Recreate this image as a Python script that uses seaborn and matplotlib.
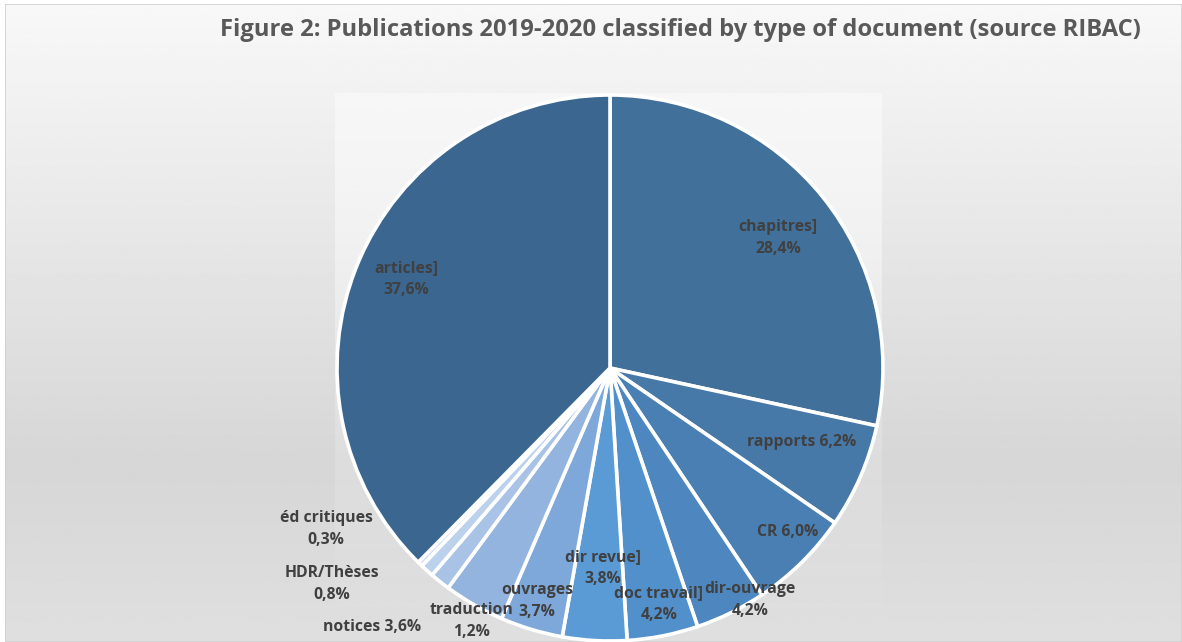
import numpy as np
import matplotlib
matplotlib.use("Agg")
import matplotlib.pyplot as plt
import seaborn as sns

# Publication counts by document type (share of total, %)
categories = ["chapitres]", "rapports", "CR", "dir-ouvrage", "doc travail]",
              "dir revue]", "ouvrages", "notices", "traduction", "HDR/Thèses",
              "éd critiques", "articles]"]
shares = [28.4, 6.2, 6.0, 4.2, 4.2, 3.8, 3.7, 3.6, 1.2, 0.8, 0.3, 37.6]
value_labels = ["28,4%", "6,2%", "6,0%", "4,2%", "4,2%", "3,8%", "3,7%",
                "3,6%", "1,2%", "0,8%", "0,3%", "37,6%"]

title = "Figure 2: Publications 2019-2020 classified by type of document (source RIBAC)"

sns.set_theme(style="white")
plt.rcParams["font.family"] = ["Open Sans", "DejaVu Sans"]

W, H, DPI = 1182, 642, 100
fig = plt.figure(figsize=(W / DPI, H / DPI), dpi=DPI)
fig.patch.set_facecolor("white")

# Chart-area background: vertical grey gradient inside a thin frame
bg = fig.add_axes([5 / W, 0, (W - 5) / W, (H - 4) / H], zorder=0)
y = np.linspace(0, 1, 256)
shade = np.interp(y, [0, 0.72, 1.0], [0.972, 0.84, 0.875])
bg.imshow(np.repeat(shade[:, None], 2, axis=1), cmap="gray", vmin=0, vmax=1,
          aspect="auto", extent=[0, 1, 1, 0])
bg.set_axis_off()
bg.add_patch(plt.Rectangle((0, 0), 1, 1, transform=bg.transAxes, fill=False,
                           edgecolor="#d0d0d0", lw=1.2))

# Plot-area panel behind the pie, lighter and fading downward
pa_left, pa_right, pa_top = 335, 882, 93
pa = fig.add_axes([pa_left / W, 0, (pa_right - pa_left) / W, (H - pa_top) / H], zorder=1)
y2 = np.linspace(0, 1, 256)
rgba = np.ones((256, 2, 4))
rgba[..., :3] = 0.975
rgba[..., 3] = np.interp(y2, [0, 0.6, 1], [0.9, 0.25, 0.0])[:, None]
pa.imshow(rgba, aspect="auto", extent=[0, 1, 1, 0])
pa.set_axis_off()

# Pie
palette = ["#41709b", "#4678a8", "#4a7fb4", "#4e87c0", "#5290cb", "#5a9bd5",
           "#7ea8da", "#93b4de", "#a8c3e6", "#bcd1ec", "#cddcf1", "#3a6690"]
cx, cy, r = 610, 368, 273
ax = fig.add_axes([(cx - r) / W, (H - cy - r) / H, 2 * r / W, 2 * r / H], zorder=2)
ax.pie(shares, colors=palette, startangle=90, counterclock=False,
       wedgeprops=dict(edgecolor="white", linewidth=2.6), radius=1.0)
ax.set_xlim(-1, 1)
ax.set_ylim(-1, 1)
ax.set_aspect("equal")
ax.set_axis_off()

# Data labels (pixel placement of each label block)
label_pos = {
    "chapitres]": (778, 238, "two"),
    "rapports": (802, 442, "one"),
    "CR": (788, 532, "one"),
    "dir-ouvrage": (750, 600, "two"),
    "doc travail]": (659, 604, "two"),
    "dir revue]": (603, 568, "two"),
    "ouvrages": (537, 601, "two"),
    "notices": (372, 627, "one"),
    "traduction": (472, 621, "two"),
    "HDR/Thèses": (332, 584, "two"),
    "éd critiques": (326, 529, "two"),
    "articles]": (406, 279, "two"),
}
for cat, val in zip(categories, value_labels):
    px, py, mode = label_pos[cat]
    text = f"{cat} {val}" if mode == "one" else f"{cat}\n{val}"
    fig.text(px / W, 1 - py / H, text, ha="center", va="center",
             fontsize=11.3, fontweight="bold", color="#404040",
             linespacing=1.55, zorder=5)

fig.text(680 / W, 1 - 30 / H, title, ha="center", va="center",
         fontsize=17.1, fontweight="bold", color="#595959", zorder=5)

fig.savefig("out.png", dpi=DPI)
